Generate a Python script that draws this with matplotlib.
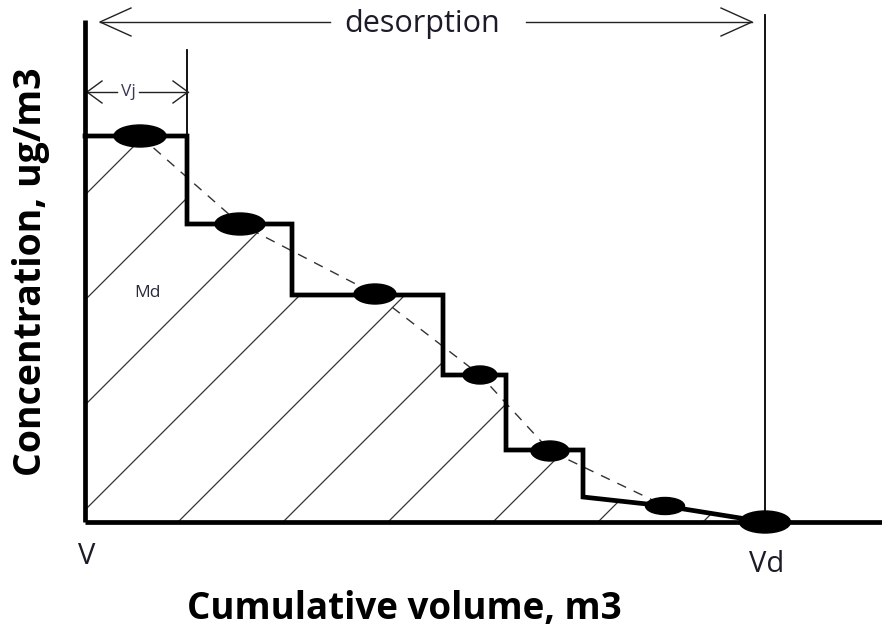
import matplotlib
matplotlib.use("Agg")
import matplotlib.pyplot as plt
import numpy as np
from matplotlib.patches import Ellipse, Polygon

# ---- data (arbitrary schematic units; origin at V / zero concentration) ----
step_edges = [0, 102, 207, 358, 421, 498]          # cumulative volume at sample boundaries
step_conc = [386, 298, 227, 147, 72]               # concentration in each sampling interval
tail_vol = [498, 580, 680]                         # final decay to Vd
tail_conc = [25, 16, 0]
point_vol = [55, 155, 290, 395, 465, 580, 680]     # measured points
point_conc = [386, 298, 228, 147, 71, 16, 0]
vd = 680

# ---- styling ----
marker_w = [52, 50, 42, 34, 38, 39, 51]
marker_h = [22, 22, 20, 18, 20, 17, 22]

fig = plt.figure(figsize=(8.82, 6.34), dpi=100)
ax = fig.add_axes([0, 0, 1, 1])
ax.set_xlim(-85, 797)
ax.set_ylim(-112, 522)
ax.axis("off")

FONT = "Open Sans"

# step curve
sx, sy = [], []
for i, c in enumerate(step_conc):
    sx += [step_edges[i], step_edges[i + 1]]
    sy += [c, c]
sx += tail_vol
sy += tail_conc
# polygon for hatching
poly = Polygon(list(zip([0] + sx, [0] + sy)) + [(vd, 0)], closed=True,
               facecolor="none", edgecolor="none", transform=ax.transData)
ax.add_patch(poly)
for k in np.arange(-327, 700, 105):
    xs = np.array([k - 50, k + 600])
    ln, = ax.plot(xs, xs - k, color="#333333", lw=0.9, zorder=1)
    ln.set_clip_path(poly)

# dashed curve through points
ax.plot(point_vol, point_conc, color="#333333", lw=1.0, dashes=(7, 6), zorder=2)

ax.plot(sx, sy, color="black", lw=3.4, solid_joinstyle="miter", zorder=3)

for x, y, w, h in zip(point_vol, point_conc, marker_w, marker_h):
    ax.add_patch(Ellipse((x, y), w, h, facecolor="black", edgecolor="black", zorder=4))

# axes lines
ax.plot([0, 0], [0, 502], color="black", lw=3.4, solid_capstyle="butt", zorder=3)
ax.plot([0, 797], [0, 0], color="black", lw=3.4, solid_capstyle="butt", zorder=3)

# vertical guide lines
ax.plot([vd, vd], [0, 507], color="black", lw=1.3, zorder=2)
ax.plot([step_edges[1], step_edges[1]], [step_conc[0], 472], color="black", lw=1.3, zorder=2)


def arrowhead(x, y, direction, dx, dy):
    ax.plot([x + direction * dx, x, x + direction * dx], [y + dy, y, y - dy],
            color="#222222", lw=1.0, zorder=2)


# desorption arrow
ya = 500
ax.plot([15, 245], [ya, ya], color="#222222", lw=1.0)
ax.plot([441, 667], [ya, ya], color="#222222", lw=1.0)
arrowhead(15, ya, 1, 31, 14)
arrowhead(667, ya, -1, 31, 14)
ax.text(337, ya - 2, "desorption", ha="center", va="center", fontsize=22,
        family=FONT, color="#1c1c28")

# Vj arrow
yv = 430
ax.plot([2, 32], [yv, yv], color="#222222", lw=1.0)
ax.plot([54, 103], [yv, yv], color="#222222", lw=1.0)
arrowhead(2, yv, 1, 15, 11)
arrowhead(103, yv, -1, 15, 11)
ax.text(43, yv, "Vj", ha="center", va="center", fontsize=12.5, family=FONT, color="#3a3a55")

ax.text(63, 229, "Md", ha="center", va="center", fontsize=12.5, family=FONT, color="#2a2a40")

ax.text(2, -35, "V", ha="center", va="center", fontsize=21, family=FONT, color="#1c1c28")
ax.text(682, -43, "Vd", ha="center", va="center", fontsize=21, family=FONT, color="#1c1c28")

ax.text(319, -87, "Cumulative volume, m3", ha="center", va="center", fontsize=26.5,
        fontweight="bold", family=FONT, color="black")
ax.text(-54, 250, "Concentration, ug/m3", ha="center", va="center", fontsize=27,
        fontweight="bold", family=FONT, color="black", rotation=90)

fig.savefig("out.png", dpi=100)
